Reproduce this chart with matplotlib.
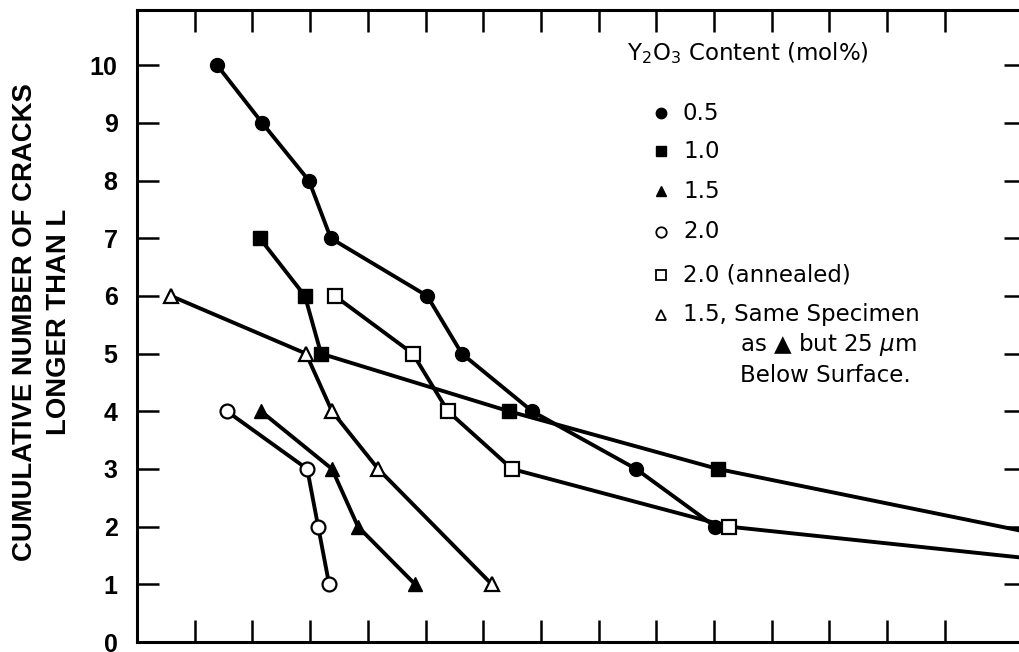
import matplotlib
matplotlib.use("Agg")
import matplotlib.pyplot as plt

plt.rcParams['font.family'] = ['Liberation Sans', 'DejaVu Sans']
plt.rcParams['mathtext.fontset'] = 'dejavusans'
plt.rcParams['mathtext.default'] = 'regular'

# ---- data (x in units of the unlabeled x-axis tick spacing) ----
x_05 = [1.39, 2.17, 2.98, 3.36, 5.03, 5.63, 6.85, 8.65, 10.02]
y_05 = [10, 9, 8, 7, 6, 5, 4, 3, 2]

x_10 = [2.13, 2.91, 3.19, 6.45, 10.07, 16.2]
y_10 = [7, 6, 5, 4, 3, 1.75]

x_15 = [2.15, 3.38, 3.83, 4.82]
y_15 = [4, 3, 2, 1]

x_20 = [1.56, 2.95, 3.14, 3.33]
y_20 = [4, 3, 2, 1]

x_20a = [3.43, 4.78, 5.39, 6.50, 10.26, 16.5]
y_20a = [6, 5, 4, 3, 2, 1.34]

x_15b = [0.59, 2.93, 3.38, 4.18, 6.15]
y_15b = [6, 5, 4, 3, 1]

y_ticks = [0, 1, 2, 3, 4, 5, 6, 7, 8, 9, 10]
x_ticks = list(range(1, 15))

legend_labels = ["0.5", "1.0", "1.5", "2.0", "2.0 (annealed)", "1.5, Same Specimen"]
legend_extra = ["as \u25B2 but 25 $\\mathit{\\mu}$m", "Below Surface."]
legend_title = "Y$_{2}$O$_{3}$ Content (mol%)"
ylabel = "CUMULATIVE NUMBER OF CRACKS\nLONGER THAN L"

# ---- figure ----
fig = plt.figure(figsize=(10.19, 6.52), dpi=100)
ax = fig.add_axes([137/1019, 10/652, 889/1019, 632/652])

lw = 2.8
series = [
    (x_05, y_05, dict(marker='o', mfc='black', mec='black', ms=10)),
    (x_10, y_10, dict(marker='s', mfc='black', mec='black', ms=10)),
    (x_15, y_15, dict(marker='^', mfc='black', mec='black', ms=10)),
    (x_20, y_20, dict(marker='o', mfc='white', mec='black', ms=10, mew=1.6)),
    (x_20a, y_20a, dict(marker='s', mfc='white', mec='black', ms=10, mew=1.6)),
    (x_15b, y_15b, dict(marker='^', mfc='white', mec='black', ms=10, mew=1.6)),
]
for i, (xs, ys, st) in enumerate(series):
    ax.plot(xs, ys, color='black', lw=lw, zorder=3 + i * 0.1, **st)

ax.set_xlim(0, 889/57.7)
ax.set_ylim(0, 632/57.67)

ax.set_xticks(x_ticks)
ax.set_xticklabels([])
ax.set_yticks(y_ticks)
ax.set_yticklabels([str(v) for v in y_ticks], fontsize=18, fontweight='bold')
ax.tick_params(axis='both', direction='in', length=16, width=1.8,
               top=True, bottom=True, left=True, right=True, pad=14)
for s in ax.spines.values():
    s.set_linewidth(2.2)

ax.set_ylabel(ylabel, fontsize=19.8, fontweight='bold', linespacing=1.38)
ax.yaxis.set_label_coords((72-137)/889, (642-322)/632)

# ---- legend (manual layout) ----
lfont = dict(family=['DejaVu Sans'], fontsize=16.5)
tr = ax.transAxes
ax.text((627-137)/889, (642-53)/632, legend_title, transform=tr,
        va='center', ha='left', **lfont)
mk_x = (661-137)/889
tx_x = (683-137)/889
rows_py = [113, 151, 191, 232, 275, 315]
for (xs, ys, st), lab, py in zip(series, legend_labels, rows_py):
    yy = (642-py)/632
    st2 = dict(st)
    st2['ms'] = 7.5
    if 'mew' in st2:
        st2['mew'] = 1.3
    ax.plot([mk_x], [yy], transform=tr, linestyle='none', clip_on=False, **st2)
    ax.text(tx_x, yy, lab, transform=tr, va='center', ha='left', **lfont)
for lab, py in zip(legend_extra, [345, 375]):
    ax.text((740-137)/889, (642-py)/632, lab, transform=tr,
            va='center', ha='left', **lfont)

fig.savefig("out.png", dpi=100)
